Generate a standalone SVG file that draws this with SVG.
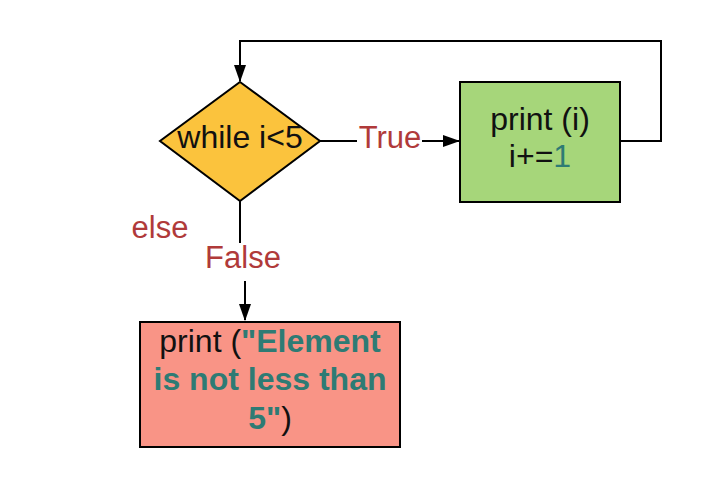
<svg xmlns="http://www.w3.org/2000/svg" width="702" height="487" viewBox="0 0 702 487">
<defs>
<style>
.lbl{font-family:"Liberation Sans",Arial,sans-serif;font-size:31px;fill:#b03a3a;}
.t{font-family:"Liberation Sans",Arial,sans-serif;font-size:32px;fill:#111;}
.tl{fill:#2e7b74;}
.b{font-weight:bold;}
.edge{fill:none;stroke:#000;stroke-width:2;}
.node{stroke:#000;stroke-width:2;}
</style>
<marker id="ah" markerWidth="17" markerHeight="12" refX="16" refY="6" orient="auto" markerUnits="userSpaceOnUse">
<path d="M0,0 L17,6 L0,12 Z" fill="#000"/>
</marker>
</defs>
<rect width="702" height="487" fill="#fff"/>
<g id="connectors">
<polyline class="edge" points="620,141 661,141 661,41 240,41 240,81" marker-end="url(#ah)"/>
<line class="edge" x1="320" y1="141" x2="357" y2="141"/>
<line class="edge" x1="422" y1="141" x2="459" y2="141" marker-end="url(#ah)"/>
<line class="edge" x1="240" y1="201" x2="240" y2="243"/>
<line class="edge" x1="245" y1="281" x2="245" y2="320" marker-end="url(#ah)"/>
<text class="lbl" x="390" y="148" text-anchor="middle">True</text>
<text class="lbl" x="243" y="268" text-anchor="middle">False</text>
<text class="lbl" x="160" y="238" text-anchor="middle">else</text>
</g>
<g id="cond">
<polygon class="node" points="240,82 320,141 240,201 160,141" fill="#fbc33d"/>
<text class="t" x="240" y="148" text-anchor="middle">while i&lt;5</text>
</g>
<g id="body">
<rect class="node" x="460" y="82" width="160" height="120" fill="#a6d67a"/>
<text class="t" x="540" y="130" text-anchor="middle">print (i)</text>
<text class="t" x="540" y="167" text-anchor="middle">i+=<tspan class="tl">1</tspan></text>
</g>
<g id="elsebox">
<rect class="node" x="140" y="322" width="260" height="125" fill="#f99486"/>
<text class="t" x="270" y="352" text-anchor="middle">print (<tspan class="tl b">"Element</tspan></text>
<text class="t tl b" x="270" y="390" text-anchor="middle">is not less than</text>
<text class="t" x="270" y="429" text-anchor="middle"><tspan class="tl b">5"</tspan>)</text>
</g>
</svg>
